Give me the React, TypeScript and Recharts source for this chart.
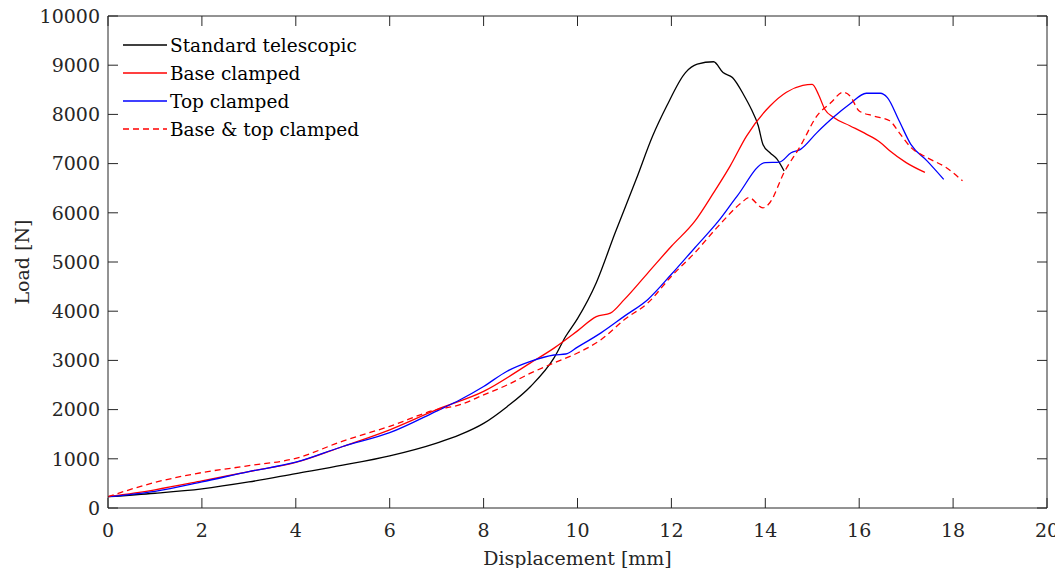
import * as React from 'react';
import { LineChart, Line, XAxis, YAxis, ReferenceLine } from 'recharts';

// displacement [mm] / load [N]
const stdX = [0, 1, 2, 3, 4, 5, 6, 7, 7.5, 8, 8.5, 9, 9.5, 9.75, 10, 10.4, 10.8, 11.25, 11.6, 11.9, 12.3, 12.55, 12.9, 13.1, 13.3, 13.55, 13.7, 13.85, 13.95, 14.1, 14.25, 14.4];
const stdY = [230, 300, 390, 530, 700, 870, 1060, 1320, 1490, 1720, 2060, 2470, 3050, 3490, 3850, 4580, 5590, 6680, 7560, 8170, 8850, 9020, 9070, 8850, 8750, 8380, 8110, 7770, 7390, 7220, 7090, 6850];

const baseX = [0, 1, 2, 3, 4, 5, 6, 7, 8, 9, 9.5, 10, 10.4, 10.7, 11, 11.5, 12, 12.5, 12.9, 13.25, 13.6, 14.1, 14.45, 14.8, 15.0, 15.13, 15.27, 15.45, 15.8, 16.15, 16.45, 16.65, 17.0, 17.4];
const baseY = [230, 370, 550, 740, 925, 1250, 1590, 2000, 2370, 2950, 3250, 3600, 3890, 3960, 4240, 4780, 5320, 5830, 6410, 6950, 7560, 8170, 8450, 8590, 8610, 8410, 8100, 7940, 7770, 7600, 7430, 7260, 7020, 6820];

const topX = [0, 1, 2, 3, 4, 5, 6, 7, 7.5, 8, 8.5, 9, 9.5, 9.75, 10, 10.5, 11, 11.5, 12, 12.5, 13, 13.4, 14, 14.3, 14.55, 14.75, 15.1, 15.45, 15.8, 16.15, 16.45, 16.6, 16.85, 17.1, 17.45, 17.8];
const topY = [230, 340, 530, 740, 930, 1250, 1530, 1970, 2200, 2470, 2780, 2980, 3110, 3130, 3270, 3560, 3900, 4240, 4750, 5290, 5830, 6340, 7020, 7030, 7220, 7290, 7630, 7940, 8210, 8430, 8430, 8340, 7870, 7390, 7050, 6680];

const bothX = [0, 1, 2, 3, 4, 5, 6, 7, 7.5, 8, 8.5, 9, 9.5, 10, 10.5, 11, 11.5, 12, 12.5, 13, 13.5, 13.65, 13.95, 14.1, 14.4, 14.75, 15.1, 15.4, 15.65, 15.8, 16.0, 16.3, 16.65, 16.85, 17.1, 17.45, 17.85, 18.2];
const bothY = [230, 520, 720, 860, 1010, 1360, 1660, 2000, 2100, 2300, 2500, 2740, 2950, 3150, 3420, 3830, 4170, 4710, 5190, 5730, 6210, 6310, 6100, 6210, 6820, 7360, 7970, 8240, 8450, 8380, 8070, 7970, 7870, 7630, 7330, 7120, 6920, 6650];

const xTicks = [0, 2, 4, 6, 8, 10, 12, 14, 16, 18, 20];
const yTicks = [0, 1000, 2000, 3000, 4000, 5000, 6000, 7000, 8000, 9000, 10000];
const X_MAX = 20;
const Y_MAX = 10000;

const FONT = '"DejaVu Serif", serif';
const INK = '#262626';

// chart geometry (svg coords) so ticks can be drawn inward on all four box edges
const W = 1055;
const H = 560;
const M = { top: 8, right: 16, left: 0 };
const Y_AXIS_W = 100;
const X_AXIS_H = 60;
const BOX = { top: M.top, bottom: H - X_AXIS_H, left: Y_AXIS_W, right: W - M.right };
const TICK_LEN = 10;

const series = [
  { name: 'Standard telescopic', xs: stdX, ys: stdY, color: '#000000', dash: undefined },
  { name: 'Base clamped', xs: baseX, ys: baseY, color: '#ff0000', dash: undefined },
  { name: 'Top clamped', xs: topX, ys: topY, color: '#0000ff', dash: undefined },
  { name: 'Base & top clamped', xs: bothX, ys: bothY, color: '#ff0000', dash: '6 4' },
];

const toRows = (xs: number[], ys: number[]) => xs.map((x, i) => ({ x, y: ys[i] }));

function XTick({ x, payload }: any) {
  return (
    <g>
      <line x1={x} x2={x} y1={BOX.bottom} y2={BOX.bottom - TICK_LEN} stroke={INK} />
      <line x1={x} x2={x} y1={BOX.top} y2={BOX.top + TICK_LEN} stroke={INK} />
      <text x={x} y={BOX.bottom + 29} textAnchor="middle" fill={INK} fontSize={19} fontFamily={FONT}>
        {payload.value}
      </text>
    </g>
  );
}

function YTick({ y, payload }: any) {
  return (
    <g>
      <line x1={BOX.left} x2={BOX.left + TICK_LEN} y1={y} y2={y} stroke={INK} />
      <line x1={BOX.right} x2={BOX.right - TICK_LEN} y1={y} y2={y} stroke={INK} />
      <text x={BOX.left - 8} y={y} dy="0.36em" textAnchor="end" fill={INK} fontSize={19} fontFamily={FONT}>
        {payload.value}
      </text>
    </g>
  );
}

// legend sits inside the axes box, top-left, no frame (matlab style)
function LegendBox() {
  return (
    <div style={{ position: 'absolute', top: 23, left: 115, fontFamily: FONT, fontSize: 18.5, color: '#000' }}>
      {series.map((s) => (
        <div key={s.name} style={{ display: 'flex', alignItems: 'center', height: 28 }}>
          <svg width={44} height={10} style={{ marginRight: 3 }}>
            <line x1={0} y1={5} x2={44} y2={5} stroke={s.color} strokeWidth={1.3} strokeDasharray={s.dash} />
          </svg>
          <span>{s.name}</span>
        </div>
      ))}
    </div>
  );
}

export default function App() {
  return (
    <div style={{ position: 'relative', width: W, height: H }}>
      <LineChart width={W} height={H} margin={{ top: M.top, right: M.right, bottom: 0, left: M.left }}>
        <XAxis
          dataKey="x"
          type="number"
          domain={[0, X_MAX]}
          ticks={xTicks}
          interval={0}
          allowDataOverflow
          height={X_AXIS_H}
          stroke={INK}
          tickLine={false}
          tick={<XTick />}
          label={{
            value: 'Displacement [mm]',
            position: 'insideBottom',
            offset: 3,
            style: { fontSize: 19, fill: INK, fontFamily: FONT },
          }}
        />
        <YAxis
          type="number"
          domain={[0, Y_MAX]}
          ticks={yTicks}
          interval={0}
          width={Y_AXIS_W}
          stroke={INK}
          tickLine={false}
          tick={<YTick />}
          label={{
            value: 'Load [N]',
            angle: -90,
            position: 'insideLeft',
            offset: 14,
            style: { fontSize: 19, fill: INK, fontFamily: FONT, textAnchor: 'middle' },
          }}
        />
        {/* box: top and right edges */}
        <ReferenceLine y={Y_MAX} stroke={INK} />
        <ReferenceLine x={X_MAX} stroke={INK} />
        {series.map((s) => (
          <Line
            key={s.name}
            name={s.name}
            data={toRows(s.xs, s.ys)}
            dataKey="y"
            type="monotone"
            stroke={s.color}
            strokeWidth={1.3}
            strokeDasharray={s.dash}
            dot={false}
            activeDot={false}
            isAnimationActive={false}
          />
        ))}
      </LineChart>
      <LegendBox />
    </div>
  );
}
